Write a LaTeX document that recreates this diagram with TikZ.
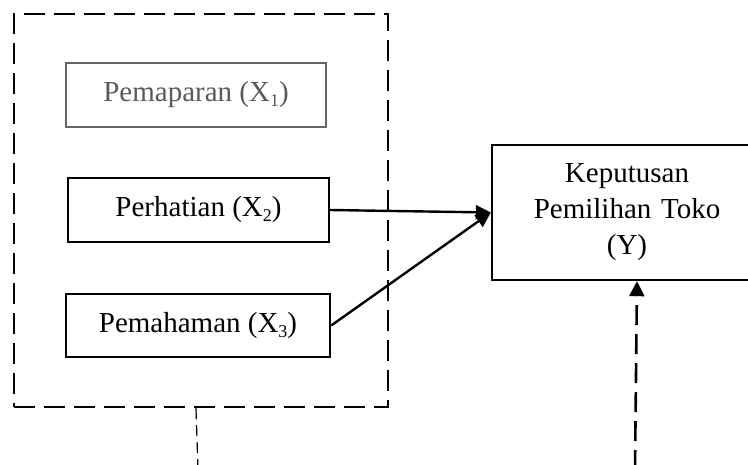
\documentclass[tikz,border=0pt]{standalone}
\usepackage{fontspec}
\setmainfont{Liberation Serif}
\usetikzlibrary{arrows.meta}

\newcommand{\subidx}[1]{\raisebox{-0.16em}{\fontsize{18}{18}\selectfont #1}}

\tikzset{
  varbox/.style={draw=black, line width=2.4pt, inner sep=0pt, align=center,
                 font=\fontsize{29}{36}\selectfont},
  groupbox/.style={draw=black, line width=2.4pt, dash pattern=on 21pt off 9pt, inner sep=0pt},
  link/.style={line width=2.4pt, -{Triangle[length=15pt,width=14pt]}},
  thindash/.style={line width=1.2pt, dash pattern=on 11pt off 6pt},
  thickdash/.style={line width=2.6pt, dash pattern=on 20pt off 9pt, -{Triangle[length=15pt,width=15pt]}}
}

\begin{document}
\begin{tikzpicture}[x=1pt, y=-1pt]
  \useasboundingbox (0,0) rectangle (748,464);
  \clip (0,0) rectangle (748,464);

  % grouping frame around the three independent variables
  \node[groupbox, minimum width=374pt, minimum height=393pt] (grp) at (201,210.5) {};

  % independent variables
  \node[varbox, draw=black!60, text=black!65, line width=2pt, minimum width=260pt, minimum height=64pt]
       (x1) at (196,95) {Pemaparan (X\subidx{1})};
  \node[varbox, minimum width=261pt, minimum height=64pt]
       (x2) at (198.5,210) {Perhatian (X\subidx{2})};
  \node[varbox, minimum width=264pt, minimum height=63pt]
       (x3) at (198,325.5) {Pemahaman (X\subidx{3})};

  % dependent variable (box runs past the right edge)
  \node[varbox, minimum width=278pt, minimum height=135pt, text width=260pt]
       (y) at (631,212.5) {\hspace*{-8pt}Keputusan\\\hspace*{-8pt}Pemilihan Toko\\\hspace*{-8pt}(Y)};

  % direct effects
  \draw[link] (x2.east) -- (y.west);
  \draw[link] (x3.east) -- (y.west);

  % combined effect path
  \coordinate (g1) at (198,470);
  \coordinate (g2) at (635,470);
  \draw[thindash] ([xshift=-5pt]grp.south) -- (g1);
  \draw[thickdash] (g2) -- ([xshift=6pt]y.south);
\end{tikzpicture}
\end{document}
